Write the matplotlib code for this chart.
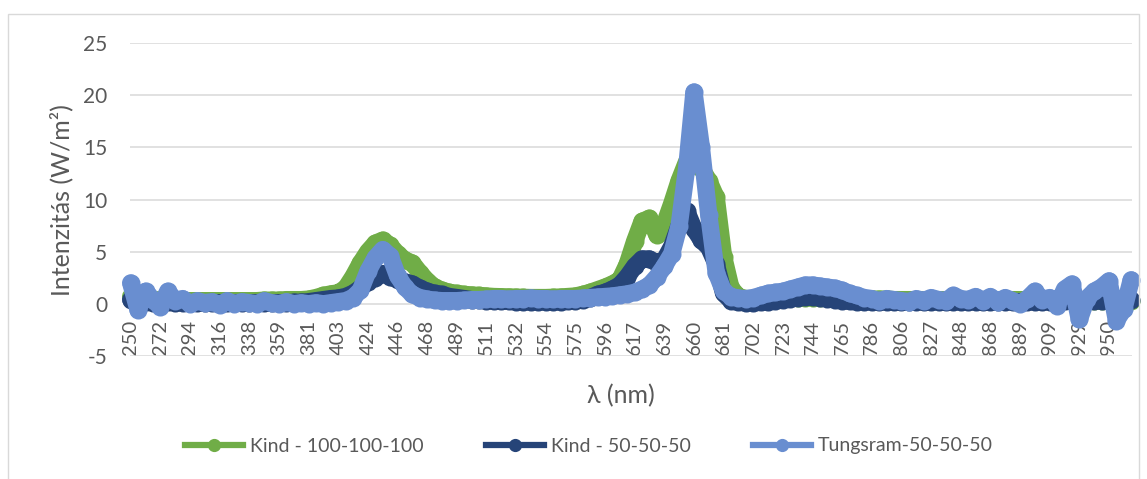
import matplotlib
matplotlib.use("Agg")
import matplotlib.pyplot as plt
from matplotlib.lines import Line2D
from matplotlib.patches import Rectangle

plt.rcParams['font.family'] = ['Lato', 'DejaVu Sans']
plt.rcParams['axes.unicode_minus'] = False

# wavelength labels shown on the category axis (one every 4 samples)
tick_labels = [250, 272, 294, 316, 338, 359, 381, 403, 424, 446, 468, 489,
               511, 532, 554, 575, 596, 617, 639, 660, 681, 702, 723, 744,
               765, 786, 806, 827, 848, 868, 889, 909, 929, 950]

# measured intensity (W/m2), 136 samples per lamp
kind_100 = [0.7, 0.4, 0.5, 0.35, 0.4, 0.3, 0.35, 0.3, 0.3, 0.3, 0.3, 0.3,
            0.3, 0.3, 0.3, 0.3, 0.3, 0.3, 0.35, 0.35, 0.35, 0.4, 0.4, 0.4,
            0.45, 0.6, 0.8, 0.95, 1.05, 1.5, 2.6, 3.9, 5.0, 5.8, 6.1, 5.6,
            4.8, 4.2, 3.9, 3.0, 2.2, 1.6, 1.3, 1.1, 1.0, 0.9, 0.85, 0.8,
            0.75, 0.7, 0.68, 0.65, 0.65, 0.62, 0.6, 0.6, 0.6, 0.62, 0.65, 0.7,
            0.75, 0.9, 1.1, 1.35, 1.6, 1.9, 2.3, 3.8, 6.0, 7.9, 8.2, 6.6,
            7.6, 9.6, 11.8, 13.6, 14.3, 13.0, 11.8, 10.2, 4.5, 1.5, 0.7, 0.5,
            0.5, 0.5, 0.5, 0.5, 0.55, 0.6, 0.6, 0.6, 0.6, 0.6, 0.55, 0.5,
            0.5, 0.5, 0.5, 0.5, 0.45, 0.45, 0.45, 0.4, 0.4, 0.4, 0.4, 0.4,
            0.4, 0.4, 0.4, 0.4, 0.4, 0.4, 0.4, 0.4, 0.4, 0.4, 0.4, 0.4,
            0.4, 0.4, 0.4, 0.4, 0.4, 0.4, 0.4, 0.35, 0.35, 0.35, 0.3, 0.3,
            0.3, 0.3, 0.3, 0.3]

kind_50 = [0.4, 0.1, 0.2, 0.1, 0.1, 0.15, 0.1, 0.1, 0.1, 0.1, 0.1, 0.1,
           0.1, 0.1, 0.1, 0.1, 0.1, 0.1, 0.1, 0.1, 0.1, 0.1, 0.15, 0.15,
           0.2, 0.3, 0.4, 0.5, 0.55, 0.7, 1.0, 1.5, 2.1, 2.5, 2.9, 2.6,
           2.3, 2.1, 1.9, 1.5, 1.2, 1.0, 0.9, 0.7, 0.6, 0.5, 0.4, 0.35,
           0.3, 0.25, 0.25, 0.25, 0.2, 0.2, 0.2, 0.2, 0.2, 0.2, 0.2, 0.25,
           0.3, 0.4, 0.6, 0.9, 1.1, 1.4, 1.8, 2.6, 3.6, 4.3, 4.3, 3.9,
           4.2, 5.5, 7.5, 8.9, 7.2, 6.1, 5.4, 3.8, 1.0, 0.3, 0.15, 0.1,
           0.1, 0.15, 0.2, 0.3, 0.4, 0.5, 0.6, 0.65, 0.65, 0.6, 0.5, 0.4,
           0.3, 0.25, 0.2, 0.2, 0.2, 0.2, 0.2, 0.2, 0.2, 0.2, 0.2, 0.2,
           0.2, 0.2, 0.2, 0.2, 0.2, 0.2, 0.2, 0.2, 0.2, 0.2, 0.2, 0.2,
           0.2, 0.2, 0.2, 0.2, 0.2, 0.25, 0.25, 0.25, 0.3, 0.3, 0.3, 0.3,
           0.3, 0.3, 0.35, 0.4]

tungsram_50 = [2.0, -0.6, 1.2, 0.4, -0.3, 1.2, 0.3, 0.5, 0.0, 0.3, 0.1, 0.2,
               -0.1, 0.3, 0.0, 0.2, 0.1, 0.0, 0.3, 0.1, 0.0, 0.2, 0.0, 0.1,
               0.0, 0.1, 0.0, 0.1, 0.2, 0.3, 0.6, 1.3, 3.1, 4.4, 5.2, 4.6,
               2.7, 1.6, 0.9, 0.6, 0.45, 0.35, 0.3, 0.3, 0.3, 0.35, 0.4, 0.4,
               0.45, 0.5, 0.5, 0.45, 0.5, 0.5, 0.55, 0.5, 0.5, 0.45, 0.5, 0.5,
               0.5, 0.55, 0.6, 0.65, 0.7, 0.75, 0.85, 0.95, 1.1, 1.4, 1.8, 2.6,
               3.6, 4.8, 7.5, 12.9, 20.3, 15.0, 8.5, 3.0, 1.2, 0.7, 0.55, 0.5,
               0.6, 0.8, 1.0, 1.1, 1.2, 1.4, 1.6, 1.8, 1.8, 1.7, 1.6, 1.5,
               1.3, 1.0, 0.8, 0.6, 0.5, 0.3, 0.5, 0.4, 0.3, 0.2, 0.5, 0.3,
               0.6, 0.4, 0.3, 0.8, 0.5, 0.4, 0.7, 0.3, 0.7, 0.2, 0.6, 0.3,
               0.0, 0.5, 1.2, 0.4, 0.6, -0.2, 1.4, 1.9, -1.5, 0.5, 1.2, 1.6,
               2.2, -1.6, -0.5, 2.3]

series = [
    ('Kind - 100-100-100', kind_100, '#70AD47'),
    ('Kind - 50-50-50', kind_50, '#264478'),
    ('Tungsram-50-50-50', tungsram_50, '#698ED0'),
]

text_color = '#595959'
grid_color = '#D9D9D9'

fig = plt.figure(figsize=(11.47, 4.79), dpi=100)
ax = fig.add_axes([0.1133, 0.2568, 0.8736, 0.6534])

for name, values, color in series:
    ax.plot(range(len(values)), values, color=color, lw=12.5,
            marker='o', ms=13, mew=0,
            solid_joinstyle='round', solid_capstyle='round', clip_on=False)

ax.set_ylim(-5, 25)
ax.set_xlim(-0.1, len(tungsram_50) - 0.9)
ax.set_yticks(range(-5, 26, 5))
ax.set_xticks(range(0, 4 * len(tick_labels), 4))
ax.set_xticklabels([str(t) for t in tick_labels])

ax.yaxis.grid(True, color=grid_color, lw=1.1)
ax.set_axisbelow(True)
for side in ['top', 'right', 'left']:
    ax.spines[side].set_visible(False)
# category labels sit on the zero line
ax.spines['bottom'].set_position(('data', 0))
ax.spines['bottom'].set_visible(False)

ax.tick_params(axis='x', length=0, pad=11.5, labelsize=14.5, labelcolor=text_color)
ax.tick_params(axis='y', length=0, pad=16.5, labelsize=15, labelcolor=text_color)
plt.setp(ax.get_xticklabels(), rotation=90, va='top', ha='center')

fig.text(621 / 1147, 1 - 396 / 479, 'λ (nm)', ha='center', va='center',
         fontsize=18, color=text_color)
fig.text(61 / 1147, 1 - 200 / 479, 'Intenzitás (W/m²)', ha='center', va='center',
         rotation=90, fontsize=18, color=text_color)

handles = [Line2D([], [], color=c, lw=4.5, marker='o', ms=9.5, mew=0, label=n)
           for n, _, c in series]
fig.legend(handles=handles, loc='center', ncol=3, frameon=False,
           bbox_to_anchor=(589 / 1147, 1 - 446 / 479),
           fontsize=14, labelcolor=text_color, handlelength=3.0,
           handletextpad=0.35, columnspacing=3.2)

# chart area outline
fig.patches.append(Rectangle((8 / 1147, -0.02), 1131 / 1147, 1 - 14 / 479 + 0.02,
                             transform=fig.transFigure, fill=False,
                             edgecolor=grid_color, lw=1.0))

fig.savefig('out.png', dpi=100)
plt.close(fig)
